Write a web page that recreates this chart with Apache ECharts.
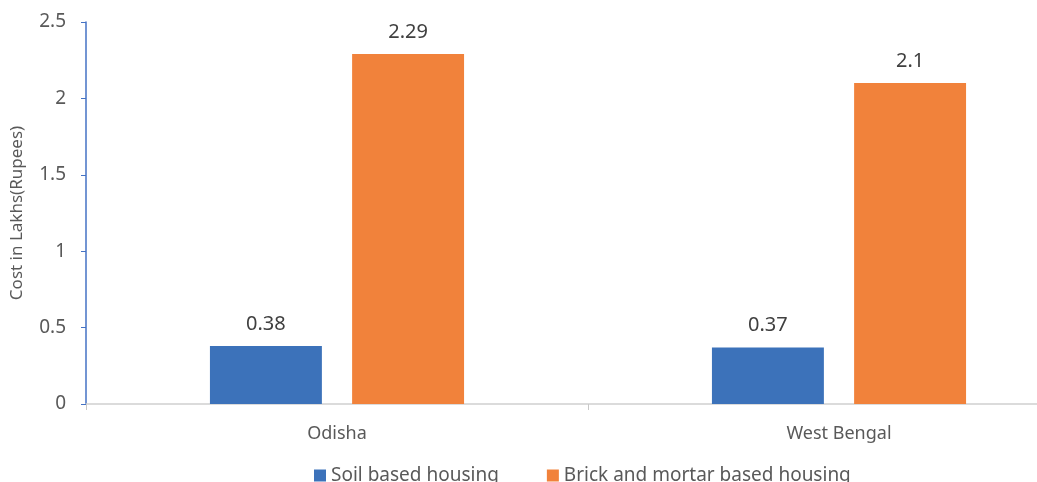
<!DOCTYPE html>
<html>
<head>
<meta charset="utf-8">
<script src="https://cdn.jsdelivr.net/npm/echarts@6/dist/echarts.min.js"></script>
<style>
  html, body { margin: 0; padding: 0; background: #fff; overflow: hidden; }
  /* chart is wider than the window: the original image crops the plot on the right */
  #chart { width: 1090px; height: 482px; }
</style>
</head>
<body>
<div id="chart"></div>
<script>
var categories = ['Odisha', 'West Bengal'];
var soilValues = [0.38, 0.37];
var brickValues = [2.29, 2.1];
var seriesNames = ['Soil based housing', 'Brick and mortar based housing'];

var chart = echarts.init(document.getElementById('chart'));
var labelStyle = {
  show: true,
  position: 'top',
  distance: 12,
  color: '#404040',
  fontSize: 20,
  fontFamily: 'Noto Sans'
};
chart.setOption({
  animation: false,
  textStyle: { fontFamily: 'Noto Sans' },
  grid: { left: 86, right: 0, top: 22, bottom: 78, outerBoundsMode: 'none' },
  legend: {
    top: 461,
    left: 309,
    itemGap: 48,
    itemWidth: 12,
    itemHeight: 12,
    icon: 'rect',
    textStyle: { color: '#595959', fontSize: 19, fontFamily: 'Noto Sans' },
    data: seriesNames
  },
  xAxis: {
    type: 'category',
    data: categories,
    axisLine: { lineStyle: { color: '#d0d0d0', width: 1.5 } },
    axisTick: { show: true, length: 6, lineStyle: { color: '#c8c8c8' } },
    axisLabel: { color: '#595959', fontSize: 18, margin: 21 }
  },
  yAxis: {
    type: 'value',
    min: 0,
    max: 2.5,
    interval: 0.5,
    name: 'Cost in Lakhs(Rupees)',
    nameLocation: 'middle',
    nameGap: 60,
    nameTextStyle: { color: '#595959', fontSize: 17 },
    splitLine: { show: false },
    axisLine: { show: true, lineStyle: { color: '#4472c4', width: 1.5 } },
    axisTick: { show: true, length: 5, lineStyle: { color: '#4472c4' } },
    axisLabel: { color: '#595959', fontSize: 19, margin: 20 }
  },
  series: [
    {
      name: seriesNames[0],
      type: 'bar',
      data: soilValues,
      barWidth: '22.3%',
      barGap: '27%',
      itemStyle: { color: '#3c72ba' },
      label: labelStyle
    },
    {
      name: seriesNames[1],
      type: 'bar',
      data: brickValues,
      barWidth: '22.3%',
      itemStyle: { color: '#f1823b' },
      label: labelStyle
    }
  ]
});
</script>
</body>
</html>
